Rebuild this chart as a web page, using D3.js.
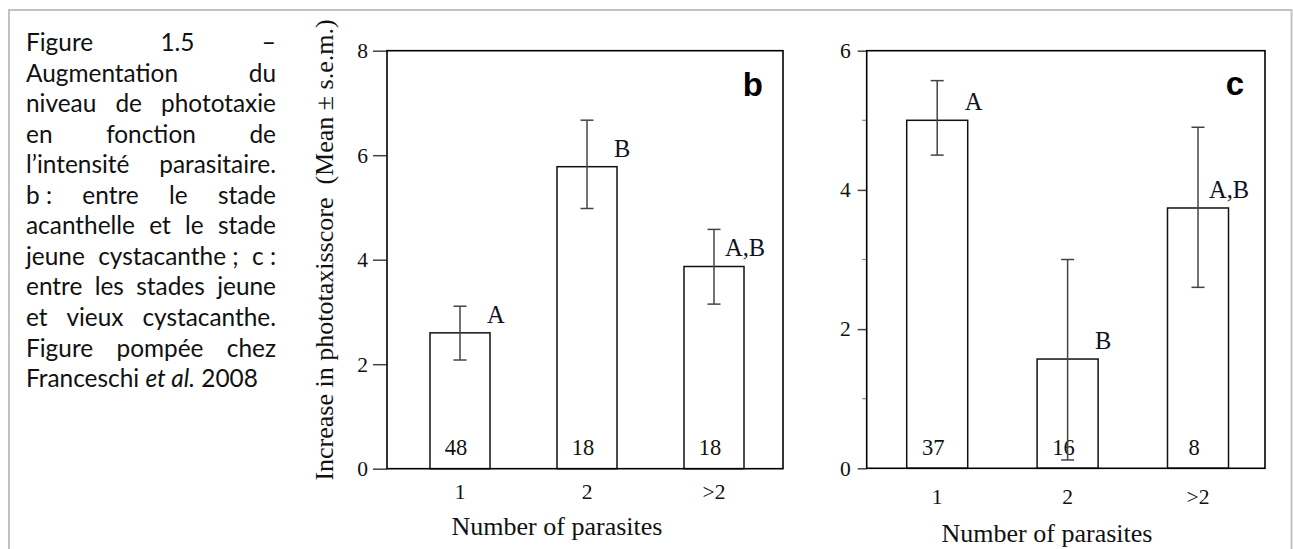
<!DOCTYPE html>
<html><head><meta charset="utf-8">
<script src="https://cdn.jsdelivr.net/npm/d3@7"></script>
<style>body{margin:0;background:#fff} svg{display:block}</style>
</head><body>
<svg id="chart" width="1293" height="549"></svg>
<script>
// ---------- data ----------
const categories = ["1", "2", ">2"];

// panel b
const meansB = [2.6, 5.78, 3.87];
const errLoB = [2.08, 4.98, 3.15];
const errHiB = [3.11, 6.67, 4.58];
const nB = ["48", "18", "18"];
const lettersB = ["A", "B", "A,B"];
const ticksB = [0, 2, 4, 6, 8];

// panel c
const meansC = [5.0, 1.57, 3.74];
const errLoC = [4.50, 0.12, 2.60];
const errHiC = [5.57, 3.00, 4.90];
const nC = ["37", "16", "8"];
const lettersC = ["A", "B", "A,B"];
const ticksC = [0, 2, 4, 6];
const minorTicksC = [1, 3, 5];

const yTitle = "Increase in phototaxisscore\u00a0\u00a0(Mean \u00b1 s.e.m.)";
const xTitle = "Number of parasites";

const captionLines = [
  ["Figure", "1.5", "\u2013"],
  ["Augmentation", "du"],
  ["niveau", "de", "phototaxie"],
  ["en", "fonction", "de"],
  ["l\u2019intensit\u00e9", "parasitaire."],
  ["b\u00a0:", "entre", "le", "stade"],
  ["acanthelle", "et", "le", "stade"],
  ["jeune", "cystacanthe\u00a0;", "c\u00a0:"],
  ["entre", "les", "stades", "jeune"],
  ["et", "vieux", "cystacanthe."],
  ["Figure", "pomp\u00e9e", "chez"]
];
const captionLast = [["Franceschi ", false], ["et al.", true], [" 2008", false]];

// ---------- drawing ----------
const svg = d3.select("#chart");
const serif = "'Liberation Serif', 'Times New Roman', serif";
const sans = "'Liberation Sans', Arial, sans-serif";

// outer grey frame
svg.append("path")
  .attr("d", "M9,549V10H1291.5V549")
  .attr("fill", "none").attr("stroke", "#c2c2c2").attr("stroke-width", 2);

// caption
const cap = svg.append("g").attr("font-family", "Lato, 'Open Sans', sans-serif").attr("fill", "#111");
function lastLine(g, fs, y) {
  const t = g.append("text").attr("font-size", fs).attr("x", 26).attr("y", y);
  captionLast.forEach(([s, it]) => t.append("tspan").attr("font-style", it ? "italic" : "normal").text(s));
  return t;
}
let fs = 20;
const m = lastLine(cap, fs, 0);
fs = fs * 232 / m.node().getComputedTextLength();
m.remove();
const capLeft = 26, capRight = 276, base0 = 51, lh = 30.55;
captionLines.forEach((words, i) => {
  const y = base0 + i * lh;
  const nodes = words.map(w => cap.append("text").attr("font-size", fs).attr("y", y).text(w));
  const widths = nodes.map(n => n.node().getComputedTextLength());
  const gap = (capRight - capLeft - d3.sum(widths)) / (words.length - 1);
  let x = capLeft;
  nodes.forEach((n, j) => { n.attr("x", x); x += widths[j] + gap; });
});
lastLine(cap, fs, base0 + captionLines.length * lh);

// panels
const panels = [
  { means: meansB, lo: errLoB, hi: errHiB, n: nB, letters: lettersB, ticks: ticksB, minor: [],
    max: 8, left: 387, right: 783, top: 50.7, bottom: 468.7, padL: 73, padR: 69, barW: 60,
    tickLen: 14, tickPad: 5, xLabY: 499, titleX: 557, titleY: 535, tag: "b", tagX: 763, tagY: 96, yTitle: true },
  { means: meansC, lo: errLoC, hi: errHiC, n: nC, letters: lettersC, ticks: ticksC, minor: minorTicksC,
    max: 6, left: 866.7, right: 1265, top: 50.7, bottom: 468.3, padL: 70.5, padR: 67, barW: 61,
    tickLen: 9, tickPad: 7, xLabY: 504, titleX: 1047, titleY: 541.7, tag: "c", tagX: 1244, tagY: 95, yTitle: false }
];

panels.forEach(p => {
  const g = svg.append("g");
  const y = d3.scaleLinear().domain([0, p.max]).range([p.bottom, p.top]);
  const x = d3.scalePoint().domain(categories).range([p.left + p.padL, p.right - p.padR]);
  const data = categories.map((c, i) => ({ c, m: p.means[i], lo: p.lo[i], hi: p.hi[i], n: p.n[i], l: p.letters[i] }));

  // y axis ticks
  const ax = g.append("g").attr("transform", `translate(${p.left},0)`)
    .call(d3.axisLeft(y).tickValues(p.ticks).tickSize(p.tickLen).tickPadding(p.tickPad).tickFormat(d3.format("d")));
  ax.select(".domain").remove();
  ax.selectAll(".tick line").attr("stroke", "#444").attr("stroke-width", 1.5);
  ax.selectAll(".tick text").attr("font-family", serif).attr("font-size", 21.5).attr("fill", "#111");
  if (p.minor.length) {
    g.selectAll(".minor").data(p.minor).join("line")
      .attr("x1", p.left - 4.5).attr("x2", p.left)
      .attr("y1", d => y(d)).attr("y2", d => y(d))
      .attr("stroke", "#888").attr("stroke-width", 1.2);
  }

  // bars
  g.selectAll(".bar").data(data).join("rect")
    .attr("x", d => x(d.c) - p.barW / 2).attr("width", p.barW)
    .attr("y", d => y(d.m)).attr("height", d => y(0) - y(d.m))
    .attr("fill", "#fff").attr("stroke", "#111").attr("stroke-width", 1.5);

  // n labels
  g.selectAll(".nlab").data(data).join("text")
    .attr("x", d => x(d.c) - 4).attr("y", 455)
    .attr("text-anchor", "middle").attr("font-family", serif).attr("font-size", 22.5).attr("fill", "#111")
    .text(d => d.n);

  // error bars
  const eb = g.selectAll(".eb").data(data).join("g").attr("stroke", "#444").attr("stroke-width", 1.5);
  eb.append("line").attr("x1", d => x(d.c)).attr("x2", d => x(d.c)).attr("y1", d => y(d.lo)).attr("y2", d => y(d.hi));
  eb.append("line").attr("x1", d => x(d.c) - 6.5).attr("x2", d => x(d.c) + 6.5).attr("y1", d => y(d.hi)).attr("y2", d => y(d.hi));
  eb.append("line").attr("x1", d => x(d.c) - 6.5).attr("x2", d => x(d.c) + 6.5).attr("y1", d => y(d.lo)).attr("y2", d => y(d.lo));

  // significance letters
  g.selectAll(".let").data(data).join("text")
    .attr("x", d => d.l.length > 1 ? x(d.c) + 11 : x(d.c) + p.barW / 2 - 3)
    .attr("y", d => y(d.m) - 10)
    .attr("font-family", serif).attr("font-size", 24.5).attr("fill", "#11111f")
    .text(d => d.l);

  // frame
  g.append("rect").attr("x", p.left).attr("y", p.top)
    .attr("width", p.right - p.left).attr("height", p.bottom - p.top)
    .attr("fill", "none").attr("stroke", "#000").attr("stroke-width", 1.6);

  // x labels
  g.selectAll(".xl").data(categories).join("text")
    .attr("x", d => x(d)).attr("y", p.xLabY)
    .attr("text-anchor", "middle").attr("font-family", serif).attr("font-size", 21.5).attr("fill", "#111")
    .text(d => d);

  g.append("text").attr("x", p.titleX).attr("y", p.titleY).attr("text-anchor", "middle")
    .attr("font-family", serif).attr("font-size", 26).attr("fill", "#111").text(xTitle);

  if (p.yTitle) {
    g.append("text").attr("transform", "translate(333,250) rotate(-90)").attr("text-anchor", "middle")
      .attr("font-family", serif).attr("font-size", 26).attr("fill", "#111").text(yTitle);
  }

  g.append("text").attr("x", p.tagX).attr("y", p.tagY).attr("text-anchor", "end")
    .attr("font-family", sans).attr("font-weight", "bold").attr("font-size", 33).attr("fill", "#000").text(p.tag);
});
</script>
</body></html>
